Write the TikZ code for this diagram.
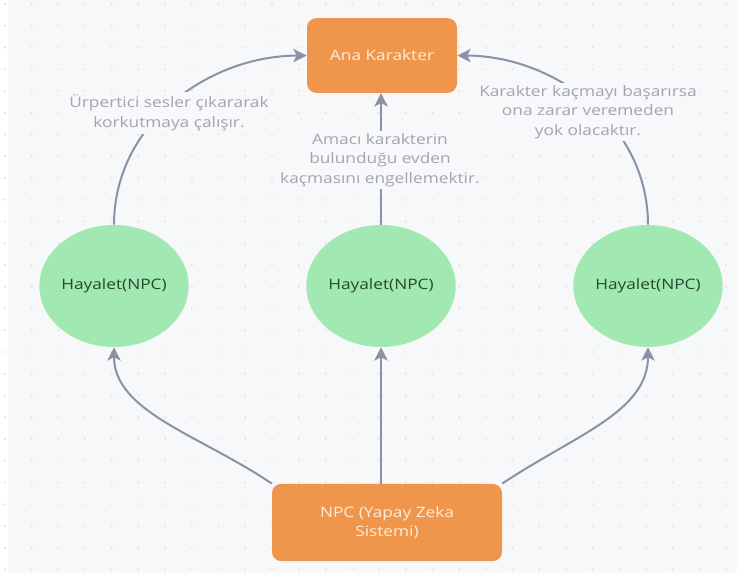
\documentclass[tikz,border=0pt]{standalone}
\usepackage{fontspec}
\setmainfont{Open Sans}[FakeStretch=1.2]
\usetikzlibrary{shapes.geometric,arrows.meta,calc}

\definecolor{canvas}{HTML}{F7F8FA}
\definecolor{griddot}{HTML}{DFE1E6}
\definecolor{boxorange}{HTML}{F0964C}
\definecolor{boxtext}{HTML}{FDEBDA}
\definecolor{ghostgreen}{HTML}{A2E8B3}
\definecolor{ghosttext}{HTML}{244A2E}
\definecolor{wire}{HTML}{8B92A5}
\definecolor{notetext}{HTML}{A2A5AE}

\tikzset{
  x=0.75pt, y=-0.75pt,
  orangebox/.style={rectangle, rounded corners=7pt, fill=boxorange, draw=none,
    text=boxtext, font=\fontsize{10.8}{14.5}\selectfont, align=center},
  ghost/.style={ellipse, fill=ghostgreen, draw=none, minimum width=112pt,
    minimum height=91.5pt, inner sep=0pt, text=ghosttext,
    font=\fontsize{10.8}{14}\selectfont},
  note/.style={fill=canvas, text=notetext, align=center, inner sep=2pt,
    font=\fontsize{10.8}{14.6}\selectfont},
  wireline/.style={draw=wire, line width=1.5pt,
    -{Stealth[length=10pt, width=10pt, inset=2.5pt]}},
}

\begin{document}
\begin{tikzpicture}
  \useasboundingbox (0,0) rectangle (737,573);
  \fill[white] (0,0) rectangle (737,573);
  \fill[canvas] (8,0) rectangle (737,573);

  % dotted canvas grid
  \foreach \i in {0,...,27}
    \foreach \j in {0,...,26}
      \fill[griddot] ({5+26.7*\i},{4+21.75*\j}) circle[radius=1.1];

  % nodes
  \node[orangebox, minimum width=112.5pt, minimum height=56pt] (main) at (382,55.5) {Ana Karakter};
  \node[orangebox, minimum width=172.5pt, minimum height=58pt] (npc) at (387,522.5) {NPC (Yapay Zeka\\Sistemi)};
  \node[ghost] (g1) at (114,286) {Hayalet(NPC)};
  \node[ghost] (g2) at (381,286) {Hayalet(NPC)};
  \node[ghost] (g3) at (648,286) {Hayalet(NPC)};

  % connectors from the system to the ghosts
  \draw[wireline] (npc.north west) .. controls (200,435) and (114,412) .. (g1.south);
  \draw[wireline] (g2.south |- npc.north) -- (g2.south);
  \draw[wireline] (npc.north east) .. controls (575,435) and (648,412) .. (g3.south);

  % connectors from the ghosts to the main character
  \draw[wireline] (g1.north) .. controls (114,125) and (207,56) .. (main.west);
  \draw[wireline] (g2.north) -- (main.south -| g2.north);
  \draw[wireline] (g3.north) .. controls (648,125) and (555,56) .. (main.east);

  % notes on the connectors
  \node[note] (n1) at (169,113) {Ürpertici sesler çıkararak\\korkutmaya çalışır.};
  \node[note] (n2) at (380,160) {Amacı karakterin\\bulunduğu evden\\kaçmasını engellemektir.};
  \node[note] (n3) at (588,112) {Karakter kaçmayı başarırsa\\ona zarar veremeden\\yok olacaktır.};
\end{tikzpicture}
\end{document}
